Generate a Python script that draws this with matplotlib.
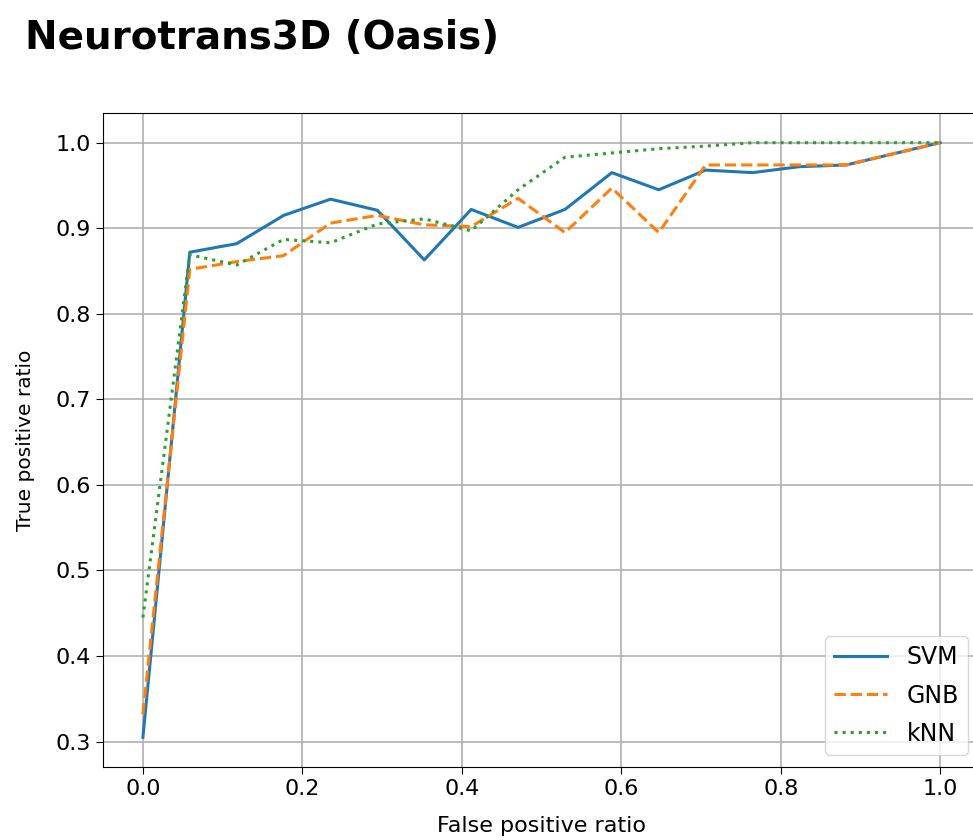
import matplotlib
matplotlib.use("Agg")
import matplotlib.pyplot as plt
import numpy as np

# ROC points on a 1/17 grid of false positive ratio
FPR = np.arange(18) / 17
SVM = [0.305, 0.872, 0.882, 0.915, 0.934, 0.921, 0.863, 0.922, 0.901, 0.922,
       0.965, 0.945, 0.968, 0.965, 0.972, 0.974, 0.987, 1.0]
GNB = [0.332, 0.852, 0.861, 0.868, 0.906, 0.915, 0.904, 0.902, 0.935, 0.895,
       0.947, 0.895, 0.974, 0.974, 0.974, 0.974, 0.987, 1.0]
KNN = [0.445, 0.869, 0.857, 0.887, 0.883, 0.905, 0.911, 0.897, 0.945, 0.983,
       0.988, 0.993, 0.996, 1.0, 1.0, 1.0, 1.0, 1.0]

plt.rcParams["font.size"] = 15

fig = plt.figure(figsize=(9.73, 8.4), dpi=100)
# axes run past the right edge, as in the cropped original
ax = fig.add_axes([0.1059, 0.0869, 0.9013, 0.7786])

ax.plot(FPR, SVM, color="#1f77b4", lw=2.2, ls="-", label="SVM")
ax.plot(FPR, GNB, color="#ff7f0e", lw=2.2, ls="--", label="GNB")
ax.plot(FPR, KNN, color="#2ca02c", lw=2.2, ls=":", label="kNN")

ax.set_xlabel("False positive ratio", fontsize=16)
ax.set_ylabel("True positive ratio", fontsize=14.5)
ax.xaxis.set_label_coords(0.5, -0.075)
ax.yaxis.set_label_coords(-0.078, 0.5)
ax.tick_params(labelsize=16, length=5)
ax.grid(True, color="#b0b0b0", lw=1.2)
ax.set_yticks(np.arange(0.3, 1.01, 0.1))
ax.legend(loc="lower right", fontsize=17, handlelength=2.25,
          labelspacing=0.6)

fig.text(0.026, 0.942, "Neurotrans3D (Oasis)", fontsize=28, weight="bold",
         ha="left", va="baseline")

fig.savefig("out.png", dpi=100)
